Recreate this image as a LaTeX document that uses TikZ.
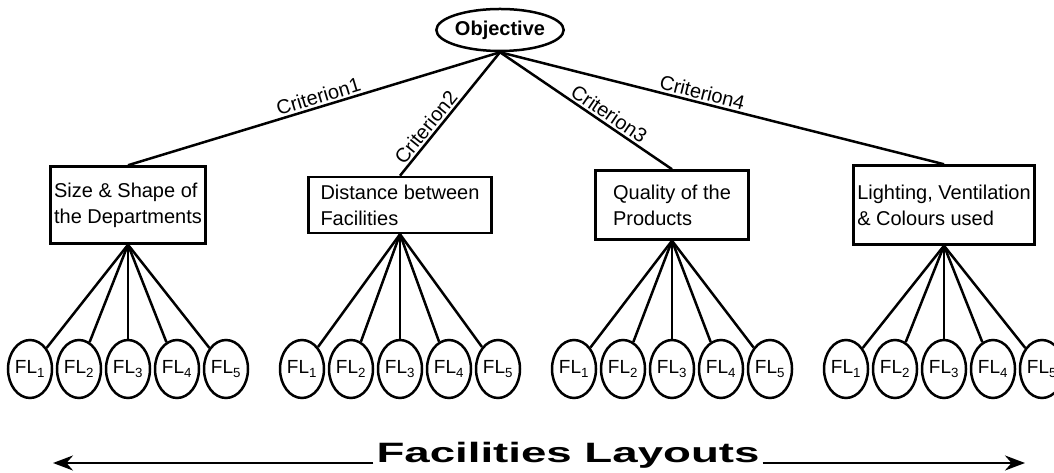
\documentclass[tikz,border=0pt]{standalone}
\usepackage{fontspec}
\setmainfont{Liberation Sans}
\usepackage{graphicx}
\usepackage{tikz}
\usetikzlibrary{arrows.meta,shapes.geometric,trees}
\tikzset{
  treenode/.style = {align=center, inner sep=0pt, text centered},
  obj/.style = {treenode, ellipse, draw=black, line width=2.5pt,
    font=\fontsize{20}{24}\selectfont\bfseries,
    minimum width=120pt, minimum height=42pt},% objective (ellipse)
  crit/.style = {treenode, rectangle, draw=black, line width=2.5pt,
    align=left, inner sep=2pt, font=\fontsize{20}{26}\selectfont},% criterion box
  fl/.style = {treenode, ellipse, draw=black, line width=2.5pt,
    minimum width=44pt, minimum height=58pt,
    font=\fontsize{19}{19}\selectfont},% layout FL (ellipse)
  lbl/.style = {sloped, above, inner sep=2pt,
    font=\fontsize{20}{20}\selectfont}% criterion label
}

\begin{document}
\begin{tikzpicture}[x=1pt,y=1pt,>={Stealth[length=20pt,width=15pt]},
  parent anchor=south,
  edge from parent/.style={draw,line width=2.5pt},
  level 1/.style={grow via three points={one child at (36,-175)
      and two children at (-100,-175) and (172,-175)},
    child anchor=north},
  level 2/.style={grow via three points={one child at (0,-164)
      and two children at (-24.5,-164) and (24.5,-164)},
    child anchor=border}]
\useasboundingbox (0,0) rectangle (1054,473);
\node [obj] (obj) at (500,443) {Objective}
	child{
		node [crit, minimum width=155pt, minimum height=77pt] (c1)
			{Size \& Shape of\\the Departments}
			child{ node [fl] (f11) {FL\textsubscript{1}} }
			child{ node [fl] (f12) {FL\textsubscript{2}} }
			child{ node [fl] (f13) {FL\textsubscript{3}} }
			child{ node [fl] (f14) {FL\textsubscript{4}} }
			child{ node [fl] (f15) {FL\textsubscript{5}} }
		edge from parent node [lbl, pos=0.48] {Criterion1}
	}
	child{
		node [crit, minimum width=183pt, minimum height=56pt] (c2)
			{Distance between\\Facilities}
			child{ node [fl] (f21) {FL\textsubscript{1}} }
			child{ node [fl] (f22) {FL\textsubscript{2}} }
			child{ node [fl] (f23) {FL\textsubscript{3}} }
			child{ node [fl] (f24) {FL\textsubscript{4}} }
			child{ node [fl] (f25) {FL\textsubscript{5}} }
		edge from parent node [lbl, pos=0.66] {Criterion2}
	}
	child{
		node [crit, minimum width=153pt, minimum height=69pt] (c3)
			{Quality of the\\Products}
			child{ node [fl] (f31) {FL\textsubscript{1}} }
			child{ node [fl] (f32) {FL\textsubscript{2}} }
			child{ node [fl] (f33) {FL\textsubscript{3}} }
			child{ node [fl] (f34) {FL\textsubscript{4}} }
			child{ node [fl] (f35) {FL\textsubscript{5}} }
		edge from parent node [lbl, pos=0.6] {Criterion3}
	}
	child{
		node [crit, minimum width=181pt, minimum height=79pt] (c4)
			{Lighting, Ventilation\\\& Colours used}
			child{ node [fl] (f41) {FL\textsubscript{1}} }
			child{ node [fl] (f42) {FL\textsubscript{2}} }
			child{ node [fl] (f43) {FL\textsubscript{3}} }
			child{ node [fl] (f44) {FL\textsubscript{4}} }
			child{ node [fl] (f45) {FL\textsubscript{5}} }
		edge from parent node [lbl, pos=0.45] {Criterion4}
	}
;
% bottom arrow
\node [anchor=base, inner xsep=3pt, inner ysep=0pt,
  font=\fontsize{28}{28}\selectfont\bfseries] (lay) at (568,10)
  {\scalebox{1.63}[1]{Facilities Layouts}};
\coordinate (la) at (53,0);
\coordinate (ra) at (1025,0);
\draw [->, line width=2.5pt] (lay.base west) -- (lay.base west -| la);
\draw [->, line width=2.5pt] (lay.base east) -- (lay.base east -| ra);
\end{tikzpicture}
\end{document}
